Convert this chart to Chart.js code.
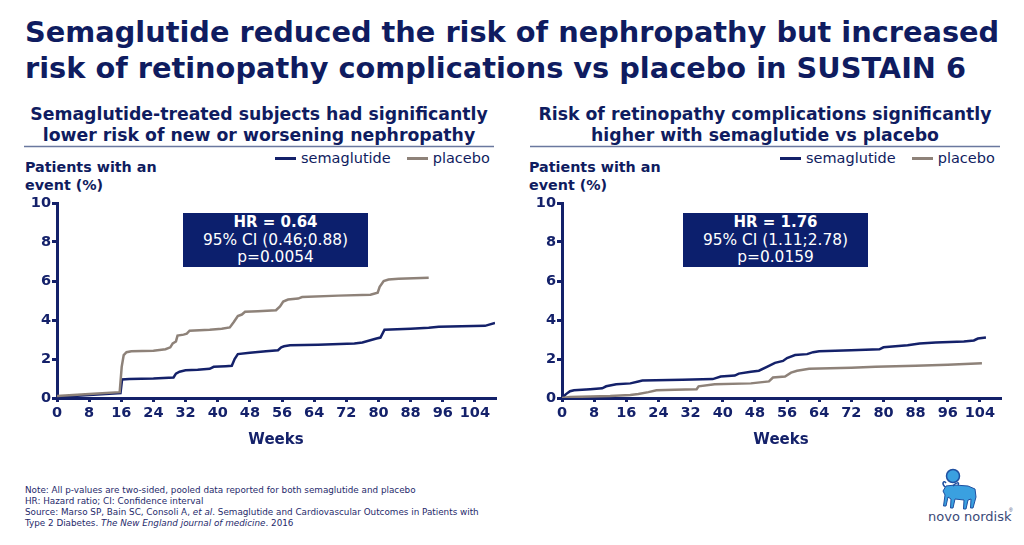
<!DOCTYPE html>
<html>
<head>
<meta charset="utf-8">
<script src="https://cdn.jsdelivr.net/npm/chart.js@4"></script>
<style>
  body { margin: 0; width: 1024px; height: 545px; background: #fff; position: relative; overflow: hidden;
         font-family: Verdana, "DejaVu Sans", sans-serif; color: #0f1c60; }
  .abs { position: absolute; }
  #title { left: 25px; top: 14px; font-size: 28.8px; font-weight: bold; line-height: 36px; white-space: nowrap; }
  .sub { top: 104px; width: 470px; text-align: center; font-size: 17.3px; font-weight: bold; line-height: 21px; white-space: nowrap; }
  .ylab { font-size: 14.3px; font-weight: bold; line-height: 18px; top: 158px; }
  .legend { top: 149px; font-size: 14.5px; line-height: 18px; white-space: nowrap; }
  .legend span.sw { display: inline-block; width: 21px; height: 3px; vertical-align: middle; margin-right: 5px; position: relative; top: -1px; }
  .box { background: #0c1f6d; color: #fff; text-align: center; font-size: 15.4px; line-height: 17.5px; padding-top: 1px; box-sizing: border-box; }
  .box b { font-size: 15px; }
  #note { left: 25px; top: 485px; font-size: 8.8px; line-height: 11px; color: #1f2a6b; white-space: nowrap; }
  canvas { position: absolute; }
</style>
</head>
<body>
<div id="title" class="abs">Semaglutide reduced the risk of nephropathy but increased<br>risk of retinopathy complications vs placebo in SUSTAIN 6</div>

<div class="abs sub" style="left:24px">Semaglutide-treated subjects had significantly<br>lower risk of new or worsening nephropathy</div>
<div class="abs sub" style="left:530px">Risk of retinopathy complications significantly<br>higher with semaglutide vs placebo</div>
<svg class="abs" style="left:0;top:140px;z-index:5" width="1024" height="12">
  <line x1="24" y1="6.5" x2="494" y2="6.5" stroke="#6a789e" stroke-width="1.5"/>
  <line x1="530" y1="6.5" x2="1000" y2="6.5" stroke="#6a789e" stroke-width="1.5"/>
</svg>

<div class="abs ylab" style="left:25px">Patients with an<br>event (%)</div>
<div class="abs ylab" style="left:529px">Patients with an<br>event (%)</div>

<div class="abs legend" style="left:275px"><span class="sw" style="background:#14216a"></span>semaglutide<span class="sw" style="background:#8e8279;margin-left:16px"></span>placebo</div>
<div class="abs legend" style="left:780px"><span class="sw" style="background:#14216a"></span>semaglutide<span class="sw" style="background:#8e8279;margin-left:16px"></span>placebo</div>

<canvas id="left" width="510" height="260" style="left:0;top:193px"></canvas>
<canvas id="right" width="510" height="260" style="left:505px;top:193px"></canvas>

<div class="abs box" style="left:183px;top:213px;width:185px;height:54px"><b>HR = 0.64</b><br>95% CI (0.46;0.88)<br>p=0.0054</div>
<div class="abs box" style="left:683px;top:213px;width:185px;height:54px"><b>HR = 1.76</b><br>95% CI (1.11;2.78)<br>p=0.0159</div>

<div id="note" class="abs">Note: All p-values are two-sided, pooled data reported for both semaglutide and placebo<br>HR: Hazard ratio; CI: Confidence interval<br>Source: Marso SP, Bain SC, Consoli A, <i>et al</i>. Semaglutide and Cardiovascular Outcomes in Patients with<br>Type 2 Diabetes. <i>The New England journal of medicine</i>. 2016</div>

<svg class="abs" style="left:925px;top:462px" width="90" height="70" viewBox="0 0 90 70">
  <circle cx="28" cy="14" r="6.5" fill="#3aa0e0" stroke="#1f4fa0" stroke-width="1.5"/>
  <path d="M18 29 L21 24 L30 23 L43 24 L50 27 L51 35 L48 46 L45.5 46 L46 37 L43 38 L41 47 L38.5 47 L39 38 L30 37 L28 46 L25.5 46 L26 37 L23 35 L21 44 L18.5 44 L20 33 Z" fill="#3aa0e0" stroke="#1f4fa0" stroke-width="1"/>
  <path d="M20 25 C16 21 19 18 21 21 M28 24 C31 20 35 20 33 23" fill="none" stroke="#1f4fa0" stroke-width="1.5"/>
  <text x="3" y="59" font-family="Verdana, 'DejaVu Sans', sans-serif" font-size="13" fill="#3b4a78">novo nordisk</text>
  <text x="84" y="50" font-family="sans-serif" font-size="5" fill="#3b4a78">®</text>
</svg>

<script>
// tick labels
const weekTicks = [0, 8, 16, 24, 32, 40, 48, 56, 64, 72, 80, 88, 96, 104];
const pctTicks = [0, 2, 4, 6, 8, 10];

// nephropathy (left panel)
const nephSemaWeeks = [0, 8, 15.8, 16.2, 18, 24, 29, 29.6, 30.5, 32, 35, 38, 39, 42, 43.5, 44.2, 45, 48, 52, 55, 55.8, 56.5, 58, 65, 74, 76, 79.5, 80.5, 81.5, 88, 92.5, 95, 106.5, 109];
const nephSema = [0.05, 0.15, 0.25, 0.95, 0.98, 1.0, 1.05, 1.25, 1.35, 1.42, 1.45, 1.5, 1.6, 1.63, 1.65, 2.0, 2.25, 2.32, 2.4, 2.45, 2.6, 2.65, 2.7, 2.73, 2.8, 2.85, 3.05, 3.1, 3.5, 3.55, 3.6, 3.65, 3.7, 3.85];
const nephPlacWeeks = [0, 8, 15.6, 16.1, 16.6, 17.3, 18.5, 24, 27, 28.2, 28.8, 29.6, 30, 31.5, 32.3, 33, 38, 41, 43, 44, 45, 46, 46.8, 50, 54.5, 55.5, 56.3, 57.5, 60, 61, 70, 78, 79.8, 80.3, 81.3, 82.5, 85, 92.5];
const nephPlac = [0.1, 0.2, 0.3, 1.6, 2.2, 2.35, 2.4, 2.42, 2.5, 2.6, 2.8, 2.9, 3.2, 3.25, 3.3, 3.45, 3.5, 3.55, 3.62, 3.9, 4.2, 4.28, 4.42, 4.45, 4.5, 4.7, 4.95, 5.05, 5.1, 5.18, 5.25, 5.3, 5.4, 5.7, 6.0, 6.08, 6.12, 6.17];

// retinopathy (right panel)
const retSemaWeeks = [0, 1, 2, 3, 7, 10, 11, 13.5, 17, 19, 20, 30, 37.5, 39.5, 43, 44, 47, 49, 51, 53, 55, 56, 58, 61, 62.5, 64, 72, 79, 80, 86, 89, 93, 100, 102.5, 103.5, 105.5];
const retSema = [0, 0.2, 0.35, 0.4, 0.45, 0.5, 0.6, 0.7, 0.75, 0.85, 0.9, 0.93, 0.97, 1.1, 1.15, 1.25, 1.35, 1.4, 1.6, 1.8, 1.9, 2.05, 2.2, 2.25, 2.35, 2.4, 2.45, 2.5, 2.6, 2.7, 2.8, 2.85, 2.9, 2.95, 3.05, 3.1];
const retPlacWeeks = [0, 2, 12, 17, 19, 21.5, 23.5, 28, 33.5, 34, 38, 47, 51.5, 52.5, 55.5, 57, 58.5, 61.5, 72, 78, 88, 96, 104.5];
const retPlac = [0, 0.05, 0.1, 0.15, 0.2, 0.3, 0.4, 0.42, 0.45, 0.6, 0.7, 0.75, 0.85, 1.05, 1.1, 1.3, 1.4, 1.5, 1.55, 1.6, 1.65, 1.7, 1.78];

const navy = '#14216a';
const grey = '#8e8279';
const font = "Verdana, 'DejaVu Sans', sans-serif";

function pts(xs, ys) {
  return xs.map((x, i) => ({ x: x, y: ys[i] }));
}

function makeChart(id, sema, plac) {
  new Chart(document.getElementById(id), {
    type: 'line',
    data: {
      datasets: [
        { label: 'placebo', data: plac, borderColor: grey, borderWidth: 2.5, pointRadius: 0, tension: 0 },
        { label: 'semaglutide', data: sema, borderColor: navy, borderWidth: 2.5, pointRadius: 0, tension: 0 }
      ]
    },
    options: {
      responsive: false,
      animation: false,
      layout: { padding: { top: 10, right: 15, left: 0, bottom: 0 } },
      plugins: { legend: { display: false }, tooltip: { enabled: false } },
      scales: {
        x: {
          type: 'linear', min: 0, max: 109,
          afterBuildTicks: s => { s.ticks = weekTicks.map(v => ({ value: v })); },
          afterFit: s => { s.height = 55; },
          border: { color: navy, width: 3 },
          grid: { drawOnChartArea: false, color: navy, lineWidth: 3, tickLength: 4 },
          ticks: { color: navy, font: { family: font, size: 14.5, weight: 'bold' }, padding: 3, maxRotation: 0, autoSkip: false },
          title: { display: true, text: 'Weeks', color: navy, font: { family: font, size: 15, weight: 'bold' }, padding: { top: 0, bottom: 4 } }
        },
        y: {
          min: 0, max: 10,
          afterBuildTicks: s => { s.ticks = pctTicks.map(v => ({ value: v })); },
          afterFit: s => { s.width = 57; },
          border: { color: navy, width: 3 },
          grid: { drawOnChartArea: false, color: navy, lineWidth: 3, tickLength: 5 },
          ticks: { color: navy, font: { family: font, size: 14.5, weight: 'bold' }, padding: 1 }
        }
      }
    }
  });
}

makeChart('left', pts(nephSemaWeeks, nephSema), pts(nephPlacWeeks, nephPlac));
makeChart('right', pts(retSemaWeeks, retSema), pts(retPlacWeeks, retPlac));
</script>
</body>
</html>
